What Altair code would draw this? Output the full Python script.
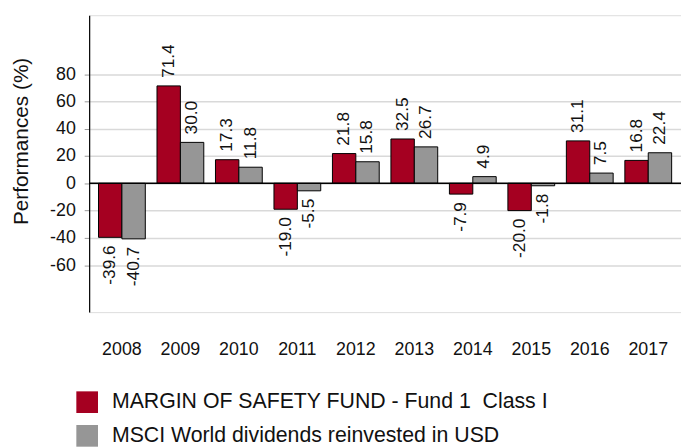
import altair as alt
import pandas as pd

years = ["2008", "2009", "2010", "2011", "2012", "2013", "2014", "2015", "2016", "2017"]
fund = [-39.6, 71.4, 17.3, -19.0, 21.8, 32.5, -7.9, -20.0, 31.1, 16.8]
msci = [-40.7, 30.0, 11.8, -5.5, 15.8, 26.7, 4.9, -1.8, 7.5, 22.4]
series = ["MARGIN OF SAFETY FUND - Fund 1\u00a0 Class I", "MSCI World dividends reinvested in USD"]
colors = ["#a50021", "#969696"]
y_ticks = [-60, -40, -20, 0, 20, 40, 60, 80]

rows = []
for i, yr in enumerate(years):
    rows.append({"year": yr, "series": series[0], "value": fund[i]})
    rows.append({"year": yr, "series": series[1], "value": msci[i]})
df = pd.DataFrame(rows)

FONT = "Liberation Sans"
YDOM = [-94.4, 123.2]

x = alt.X("year:N", sort=years, title=None,
          scale=alt.Scale(paddingInner=0.2, paddingOuter=0.16),
          axis=alt.Axis(labelAngle=0, domain=False, ticks=False, labelPadding=29,
                        labelFontSize=18, labelFont=FONT, labelColor="#111111"))
xo = alt.XOffset("series:N", sort=series, scale=alt.Scale(paddingInner=0, paddingOuter=0))
y = alt.Y("value:Q", title="Performances (%)",
          scale=alt.Scale(domain=YDOM, nice=False, zero=False),
          axis=alt.Axis(values=y_ticks, grid=True, gridColor="#d9d9d9", gridWidth=1.5,
                        domainColor="#000000", domainWidth=1.2,
                        tickColor="#999999", tickSize=5, labelPadding=9,
                        labelExpr="toString(datum.value)",
                        labelFontSize=18, labelFont=FONT, labelColor="#111111",
                        titleFontSize=21, titleFont=FONT, titleFontWeight="normal",
                        titleColor="#111111", titleAngle=-90, titleX=-68, titleY=127,
                        titleAlign="center", titleBaseline="middle"))

base = alt.Chart(df).transform_calculate(
    lbl="replace(format(datum.value, '.1f'), '\u2212', '-')"
)

bars = base.mark_bar(stroke="#000000", strokeWidth=1).encode(
    x=x, xOffset=xo, y=y, y2=alt.datum(0),
    color=alt.Color("series:N", sort=series,
                    scale=alt.Scale(domain=series, range=colors),
                    legend=alt.Legend(orient="none", legendX=-13, legendY=380, title=None,
                                      direction="vertical", symbolType="square",
                                      symbolSize=480, symbolStrokeWidth=0,
                                      labelFontSize=21.5, labelFont=FONT, labelColor="#111111",
                                      labelOffset=14, rowPadding=12, labelLimit=600,
                                      padding=0)),
)

ytext = alt.Y("value:Q", scale=alt.Scale(domain=YDOM, nice=False, zero=False))

pos = base.transform_filter("datum.value >= 0").mark_text(
    angle=270, align="left", baseline="middle", dx=8, fontSize=17.5, font=FONT, color="#111111"
).encode(x=x, xOffset=xo, y=ytext, text="lbl:N")

neg = base.transform_filter("datum.value < 0").mark_text(
    angle=270, align="right", baseline="middle", dx=-8, fontSize=17.5, font=FONT, color="#111111"
).encode(x=x, xOffset=xo, y=ytext, text="lbl:N")

zero = alt.Chart(pd.DataFrame({"z": [0]})).mark_rule(color="#000000", strokeWidth=1.5).encode(
    y=alt.Y("z:Q", scale=alt.Scale(domain=YDOM, nice=False, zero=False))
)

chart = alt.layer(bars, pos, neg, zero).properties(
    width=598, height=300,
    padding={"left": 82, "top": 5, "right": 0, "bottom": 135},
    autosize=alt.AutoSizeParams(type="none"),
).configure_view(stroke=None).configure(background="#ffffff")

chart.save("out.html", embed_options={"renderer": "svg", "actions": False})
